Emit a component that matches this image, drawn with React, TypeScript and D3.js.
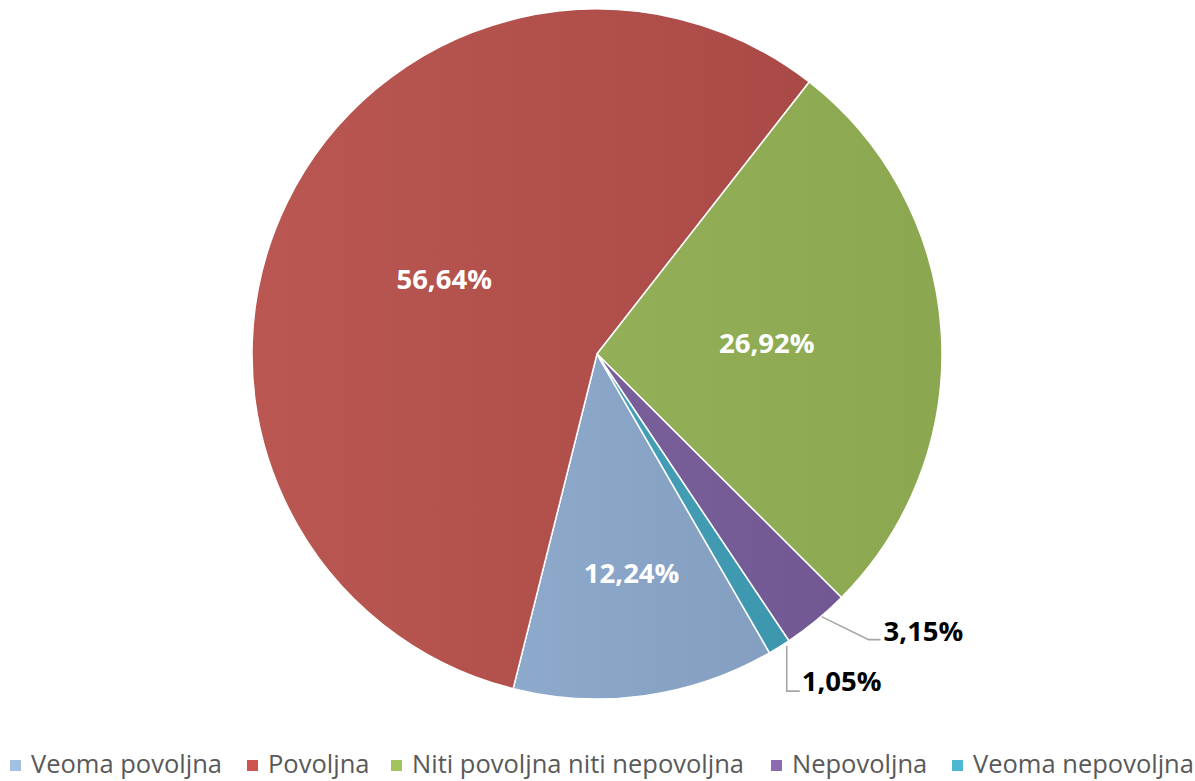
import React from "react";
import * as d3 from "d3";

const categories = ["Veoma povoljna", "Povoljna", "Niti povoljna niti nepovoljna", "Nepovoljna", "Veoma nepovoljna"];
const values = [12.24, 56.64, 26.92, 3.15, 1.05];
const labels = ["12,24%", "56,64%", "26,92%", "3,15%", "1,05%"];
const sliceLight = ["#8DA9CB", "#BA5752", "#93B059", "#7A609A", "#45A0B8"];
const sliceDark = ["#849FC0", "#AA4A46", "#8BA851", "#725892", "#3C96AE"];
const legendColors = ["#A2C0E2", "#CF5450", "#A5C35C", "#8D6BB0", "#4CB8D2"];

const W = 1195;
const H = 781;
const cx = 597;
const cy = 354;
const R = 345;
const legendMarkerX = [10, 247, 391, 771, 952];

export default function App() {
  const data = categories.map((c, i) => ({ name: c, value: values[i], label: labels[i], i }));
  const start = (150 * Math.PI) / 180;
  const pie = d3
    .pie<any>()
    .value((d: any) => d.value)
    .sort(null)
    .startAngle(start)
    .endAngle(start + 2 * Math.PI);
  const arcs = pie(data);
  const arc = d3.arc<any>().innerRadius(0).outerRadius(R);

  const polar = (a: number, r: number) => [Math.sin(a) * r, -Math.cos(a) * r];

  return (
    <svg width={W} height={H} style={{ position: "absolute", left: 0, top: 0 }}>
      <defs>
        {arcs.map((a, i) => (
          <linearGradient key={i} id={`g${i}`} x1="0" y1="0" x2="1" y2="0">
            <stop offset="0" stopColor={sliceLight[i]} />
            <stop offset="1" stopColor={sliceDark[i]} />
          </linearGradient>
        ))}
      </defs>
      <rect width={W} height={H} fill="#fff" />
      <g transform={`translate(${cx},${cy})`}>
        {arcs.map((a, i) => (
          <path key={i} d={arc(a) as string} fill={`url(#g${i})`} stroke="#fff" strokeWidth={1.5} strokeLinejoin="round" />
        ))}
        {arcs.map((a, i) => {
          const mid = (a.startAngle + a.endAngle) / 2;
          if (a.data.value > 10) {
            const r = a.data.value > 20 ? R * 0.493 : R * 0.64;
            const [x, y] = polar(mid, r);
            return (
              <text
                key={i}
                x={x + (a.data.value > 20 ? 0 : 4)}
                y={y}
                dy="0.36em"
                textAnchor="middle"
                fill="#fff"
                fontFamily="'Open Sans', sans-serif"
                fontWeight={700}
                fontSize={27.5}
              >
                {a.data.label}
              </text>
            );
          }
          return null;
        })}
        {arcs.map((a, i) => {
          if (a.data.value > 10) return null;
          const mid = (a.startAngle + a.endAngle) / 2;
          const [sx, sy] = polar(mid, R - 1);
          let pts: number[][];
          let tx: number;
          let ty: number;
          if (a.data.value > 2) {
            pts = [
              [sx + 6, sy - 3],
              [sx + 53, sy + 20],
              [sx + 65, sy + 20],
            ];
            tx = sx + 68;
            ty = sy + 11;
          } else {
            pts = [
              [sx + 8, sy],
              [sx + 8, sy + 45],
              [sx + 21, sy + 45],
            ];
            tx = sx + 23;
            ty = sy + 35;
          }
          return (
            <g key={i}>
              <polyline points={pts.map((p) => p.join(",")).join(" ")} fill="none" stroke="#A6A6A6" strokeWidth={1.6} />
              <text
                x={tx}
                y={ty}
                dy="0.36em"
                fill="#000"
                fontFamily="'Open Sans', sans-serif"
                fontWeight={700}
                fontSize={27.5}
              >
                {a.data.label}
              </text>
            </g>
          );
        })}
      </g>
      <g>
        {categories.map((c, i) => (
          <g key={i}>
            <rect x={legendMarkerX[i]} y={760} width={11} height={11} fill={legendColors[i]} />
            <text
              x={legendMarkerX[i] + 21}
              y={773}
              fill="#595959"
              fontFamily="'Open Sans', sans-serif"
              fontSize={25.5}
            >
              {c}
            </text>
          </g>
        ))}
      </g>
    </svg>
  );
}
